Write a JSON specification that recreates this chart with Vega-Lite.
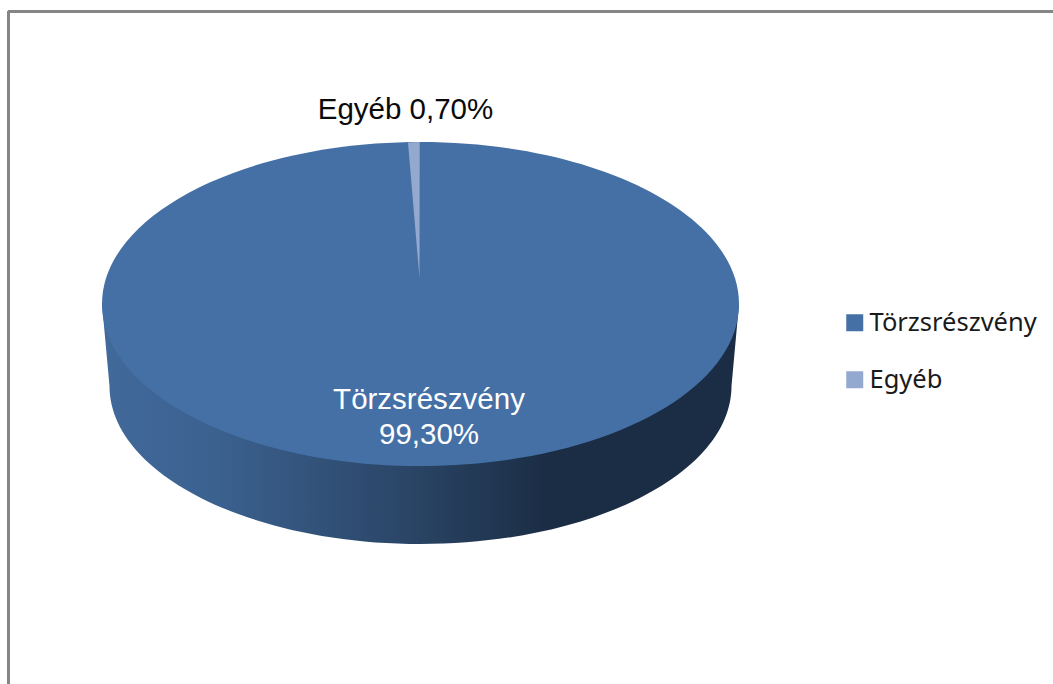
{
  "$schema": "https://vega.github.io/schema/vega-lite/v6.json",
  "width": 1045,
  "height": 673,
  "autosize": {"type": "none"},
  "padding": {"left": 8, "top": 11, "right": 0, "bottom": 0},
  "background": "white",
  "view": {"stroke": null},
  "data": {"values": [
    {"category": "Törzsrészvény", "share": 99.3, "label": "Törzsrészvény\n99,30%"},
    {"category": "Egyéb", "share": 0.7, "label": "Egyéb 0,70%"}
  ]},
  "layer": [
    {
      "transform": [{"filter": "datum.category === 'Törzsrészvény'"}],
      "mark": {"type": "rule", "color": "#868686", "strokeWidth": 3},
      "encoding": {
        "x": {"datum": 0.5, "type": "quantitative", "scale": {"domain": [0, 1045]}, "axis": null}
      }
    },
    {
      "transform": [{"filter": "datum.category === 'Törzsrészvény'"}],
      "mark": {"type": "rule", "color": "#868686", "strokeWidth": 3},
      "encoding": {
        "y": {"datum": 0.5, "type": "quantitative", "scale": {"domain": [0, 673], "reverse": true}, "axis": null}
      }
    },
    {
      "transform": [{"filter": "datum.category === 'Törzsrészvény'"}],
      "mark": {
        "type": "point",
        "filled": true,
        "opacity": 1,
        "size": 4,
        "strokeWidth": 0,
        "shape": "M-318.5,0L-311,82A311,158,0,0,0,311,82L318.5,0Z",
        "fill": {
          "gradient": "linear", "x1": 0, "y1": 0, "x2": 1, "y2": 0,
          "stops": [
            {"offset": 0, "color": "#41699A"},
            {"offset": 0.18, "color": "#3B618F"},
            {"offset": 0.48, "color": "#2A4566"},
            {"offset": 0.7, "color": "#1B2D45"},
            {"offset": 1, "color": "#1B2D45"}
          ]
        }
      },
      "encoding": {
        "x": {"datum": 412.5, "type": "quantitative", "scale": {"domain": [0, 1045]}, "axis": null},
        "y": {"datum": 293, "type": "quantitative", "scale": {"domain": [0, 673], "reverse": true}, "axis": null}
      }
    },
    {
      "transform": [{"filter": "datum.category === 'Törzsrészvény'"}],
      "mark": {"type": "point", "filled": true, "opacity": 1, "size": 4, "strokeWidth": 0, "shape": "M-318.5,0A318.5,162,0,1,1,318.5,0A318.5,162,0,1,1,-318.5,0Z"},
      "encoding": {
        "x": {"datum": 412.5, "type": "quantitative", "scale": {"domain": [0, 1045]}, "axis": null},
        "y": {"datum": 293, "type": "quantitative", "scale": {"domain": [0, 673], "reverse": true}, "axis": null},
        "color": {
          "field": "category",
          "type": "nominal",
          "scale": {"domain": ["Törzsrészvény", "Egyéb"], "range": ["#4570A6", "#94A9CF"]},
          "legend": {
            "title": null,
            "orient": "none",
            "legendX": 834,
            "legendY": 299,
            "padding": 0,
            "symbolType": "square",
            "symbolSize": 289,
            "symbolStrokeWidth": 0,
            "labelFont": "Noto Sans",
            "labelFontSize": 25.5,
            "labelColor": "#1a1a1a",
            "labelOffset": 2,
            "labelLimit": 300,
            "rowPadding": 30
          }
        }
      }
    },
    {
      "transform": [{"filter": "datum.category === 'Egyéb'"}],
      "mark": {"type": "point", "filled": true, "opacity": 1, "size": 4, "strokeWidth": 0, "shape": "M-1,-26L-12.5,-161.5L-0.8,-161.9Z"},
      "encoding": {
        "x": {"datum": 412.5, "type": "quantitative", "scale": {"domain": [0, 1045]}, "axis": null},
        "y": {"datum": 293, "type": "quantitative", "scale": {"domain": [0, 673], "reverse": true}, "axis": null},
        "color": {"field": "category", "type": "nominal"}
      }
    },
    {
      "transform": [{"filter": "datum.category === 'Egyéb'"}],
      "mark": {"type": "text", "font": "Liberation Sans", "fontSize": 29.5, "color": "#0a0a0a", "align": "center", "baseline": "middle"},
      "encoding": {
        "x": {"datum": 397.5, "type": "quantitative", "scale": {"domain": [0, 1045]}, "axis": null},
        "y": {"datum": 99, "type": "quantitative", "scale": {"domain": [0, 673], "reverse": true}, "axis": null},
        "text": {"field": "label"}
      }
    },
    {
      "transform": [{"filter": "datum.category === 'Törzsrészvény'"}],
      "mark": {"type": "text", "font": "Liberation Sans", "fontSize": 29.5, "color": "white", "align": "center", "baseline": "middle", "lineBreak": "\n", "lineHeight": 35},
      "encoding": {
        "x": {"datum": 421, "type": "quantitative", "scale": {"domain": [0, 1045]}, "axis": null},
        "y": {"datum": 389, "type": "quantitative", "scale": {"domain": [0, 673], "reverse": true}, "axis": null},
        "text": {"field": "label"}
      }
    }
  ]
}
